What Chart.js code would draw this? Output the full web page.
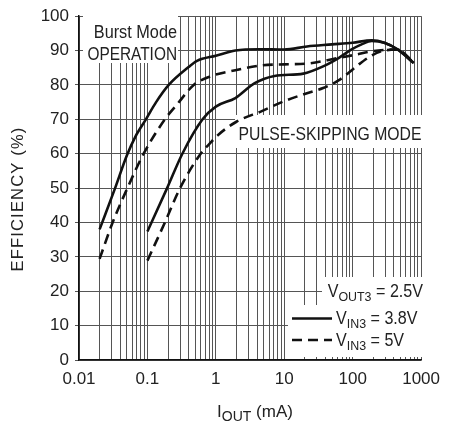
<!DOCTYPE html>
<html>
<head>
<meta charset="utf-8">
<script src="https://cdn.jsdelivr.net/npm/chart.js@4/dist/chart.umd.min.js"></script>
<style>
  html, body { margin: 0; padding: 0; background: #fff; }
  #wrap { width: 449px; height: 425px; }
</style>
</head>
<body>
<div id="wrap"><canvas id="eff-chart"></canvas></div>
<script>
// efficiency vs load current
const burst38Current = [0.02, 0.0337, 0.05, 0.0668, 0.095, 0.134, 0.205, 0.4, 0.53, 1, 1.93, 4.2, 10, 21.5, 50, 100, 190, 290, 450, 780];
const burst38Eff     = [38, 50, 59.5, 65, 70, 75, 80, 85.2, 87, 88.5, 90, 90.4, 90.3, 91.2, 91.8, 92.3, 93, 92.3, 90.4, 86.4];

const burst5Current = [0.02, 0.031, 0.051, 0.088, 0.18, 0.275, 0.475, 0.81, 1.93, 4.7, 10, 21.5, 63, 110, 190, 290, 450, 780];
const burst5Eff     = [29.4, 40, 50, 60, 70, 74.5, 80, 82.4, 84.3, 85.7, 86, 86.2, 87.9, 88.8, 89.8, 90.2, 90.3, 86.4];

const pulse38Current = [0.1, 0.194, 0.324, 0.64, 1, 1.93, 3.7, 7.2, 19, 37, 63, 98, 135, 190, 290, 450, 780];
const pulse38Eff     = [37.4, 50, 60, 70, 73.7, 76.2, 80.5, 82.6, 83.3, 85.4, 87.9, 90.4, 91.8, 92.8, 92.3, 90.4, 86.4];

const pulse5Current = [0.1, 0.18, 0.3, 0.6, 0.8, 1.1, 2, 4.7, 10, 21.5, 37, 63, 110, 170, 263, 450, 780];
const pulse5Eff     = [28.9, 40, 50, 60, 62.8, 65.6, 69.3, 72.4, 75.3, 77.6, 79.1, 81.4, 85.2, 88, 89.8, 90.3, 86.4];

const xTickLabels = ['0.01', '0.1', '1', '10', '100', '1000'];
const yTickLabels = ['0', '10', '20', '30', '40', '50', '60', '70', '80', '90', '100'];

const FONT = "'Liberation Sans', Arial, sans-serif";
const INK = '#222';

function toPoints(xs, ys) {
  return xs.map((x, i) => ({ x: x, y: ys[i] }));
}

function curve(label, xs, ys, dashed) {
  return {
    label: label,
    data: toPoints(xs, ys),
    borderColor: '#111',
    borderWidth: 2.6,
    borderDash: dashed ? [10, 6] : [],
    pointRadius: 0,
    fill: false,
    cubicInterpolationMode: 'monotone'
  };
}

// narrow-ish text, the reference uses a condensed face
function narrowText(ctx, text, x, y, align, size, sx) {
  ctx.save();
  ctx.font = size + 'px ' + FONT;
  let w = ctx.measureText(text).width * sx;
  let left = align === 'right' ? x - w : (align === 'center' ? x - w / 2 : x);
  ctx.translate(left, y);
  ctx.scale(sx, 1);
  ctx.textAlign = 'left';
  ctx.textBaseline = 'alphabetic';
  ctx.fillText(text, 0, 0);
  ctx.restore();
}

// text with subscript pieces: parts = [[text, isSub], ...]
function drawParts(ctx, parts, x, y, align, size, subSize, sx) {
  let widths = parts.map(p => {
    ctx.font = (p[1] ? subSize : size) + 'px ' + FONT;
    return ctx.measureText(p[0]).width * sx;
  });
  let total = widths.reduce((a, b) => a + b, 0);
  let cx = align === 'right' ? x - total : (align === 'center' ? x - total / 2 : x);
  parts.forEach((p, i) => {
    narrowText(ctx, p[0], cx, p[1] ? y + 4 : y, 'left', p[1] ? subSize : size, sx);
    cx += widths[i];
  });
}

const notesPlugin = {
  id: 'notes',
  beforeDatasetsDraw(chart) {
    const ctx = chart.ctx;
    ctx.save();
    ctx.fillStyle = '#fff';
    // white boxes over the grid
    ctx.fillRect(83, 9, 95, 54);
    ctx.fillRect(235, 115, 189, 33);
    ctx.fillRect(322, 277, 108, 28);
    ctx.fillRect(288, 305, 142, 52);

    ctx.fillStyle = INK;
    narrowText(ctx, 'Burst Mode', 177, 38, 'right', 17.5, 0.93);
    narrowText(ctx, 'OPERATION', 177, 60, 'right', 17.5, 0.88);
    narrowText(ctx, 'PULSE-SKIPPING MODE', 330, 139.5, 'center', 17.5, 0.9);

    // legend
    drawParts(ctx, [['V', false], ['OUT3', true], [' = 2.5V', false]], 423, 296.5, 'right', 17.5, 13.5, 0.92);
    drawParts(ctx, [['V', false], ['IN3', true], [' = 3.8V', false]], 336, 324, 'left', 17.5, 13.5, 0.92);
    drawParts(ctx, [['V', false], ['IN3', true], [' = 5V', false]], 336, 345.5, 'left', 17.5, 13.5, 0.92);

    ctx.strokeStyle = '#111';
    ctx.lineWidth = 2.6;
    ctx.beginPath();
    ctx.moveTo(292, 318.5);
    ctx.lineTo(332, 318.5);
    ctx.stroke();
    ctx.setLineDash([10, 6]);
    ctx.beginPath();
    ctx.moveTo(292, 340);
    ctx.lineTo(332, 340);
    ctx.stroke();
    ctx.setLineDash([]);
    ctx.restore();
  },
  afterDraw(chart) {
    const ctx = chart.ctx;
    ctx.save();
    ctx.fillStyle = INK;
    // axis titles
    drawParts(ctx, [['I', false], ['OUT', true], [' (mA)', false]], 255, 416.5, 'center', 17, 14, 1);
    ctx.translate(23, 199);
    ctx.rotate(-Math.PI / 2);
    ctx.font = '16.5px ' + FONT;
    ctx.letterSpacing = '1.2px';
    ctx.textAlign = 'center';
    ctx.textBaseline = 'alphabetic';
    ctx.fillText('EFFICIENCY (%)', 0, 0);
    ctx.restore();
  }
};

const chart = new Chart(document.getElementById('eff-chart'), {
  type: 'line',
  data: {
    datasets: [
      curve('Burst Mode, VIN3 = 3.8V', burst38Current, burst38Eff, false),
      curve('Burst Mode, VIN3 = 5V', burst5Current, burst5Eff, true),
      curve('Pulse-skipping, VIN3 = 3.8V', pulse38Current, pulse38Eff, false),
      curve('Pulse-skipping, VIN3 = 5V', pulse5Current, pulse5Eff, true)
    ]
  },
  options: {
    responsive: true,
    maintainAspectRatio: false,
    animation: false,
    layout: { padding: { top: 8, right: 18, left: 0, bottom: 0 } },
    plugins: {
      legend: { display: false },
      tooltip: { enabled: false }
    },
    scales: {
      x: {
        type: 'logarithmic',
        min: 0.01,
        max: 1000,
        afterBuildTicks: (scale) => {
          const ticks = [];
          for (let k = -2; k <= 2; k++) {
            for (let m = 1; m <= 9; m++) {
              ticks.push({ value: m * Math.pow(10, k) });
            }
          }
          ticks.push({ value: 1000 });
          scale.ticks = ticks;
        },
        afterFit: (scale) => { scale.height = 65; },
        ticks: {
          autoSkip: false,
          maxRotation: 0,
          padding: 9,
          color: INK,
          font: { family: FONT, size: 17 },
          callback: (value) => {
            const idx = Math.round(Math.log10(value)) + 2;
            const isDecade = Math.abs(Math.log10(value) - Math.round(Math.log10(value))) < 1e-6;
            return isDecade ? xTickLabels[idx] : '';
          }
        },
        grid: { color: '#555', lineWidth: 1, drawTicks: false },
        border: { color: '#111', width: 1.5 }
      },
      y: {
        min: 0,
        max: 100,
        afterFit: (scale) => { scale.width = 79; },
        ticks: {
          stepSize: 10,
          padding: 6,
          color: INK,
          font: { family: FONT, size: 17 },
          callback: (value) => yTickLabels[Math.round(value / 10)]
        },
        grid: { color: '#555', lineWidth: 1, tickLength: 4 },
        border: { color: '#111', width: 1.5 }
      }
    }
  },
  plugins: [notesPlugin]
});
</script>
</body>
</html>
